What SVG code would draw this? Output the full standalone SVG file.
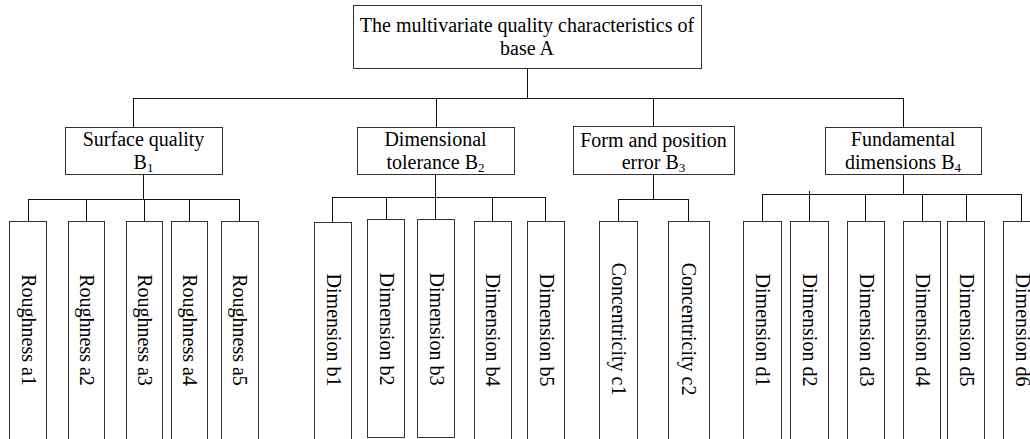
<svg xmlns="http://www.w3.org/2000/svg" width="1030" height="439" viewBox="0 0 1030 439">
<style>
  rect { fill: #fff; stroke: #333; stroke-width: 1; }
  .c line { stroke: #111; stroke-width: 1; }
  text { font-family: "Liberation Serif", "Times New Roman", serif; font-size: 20px; fill: #000; }
  .m { text-anchor: middle; }
  .sub { font-size: 13px; }
</style>
<rect x="0" y="0" width="1030" height="439" style="fill:#fff;stroke:none"/>
<g class="c" id="connectors">
  <line x1="527.5" y1="68" x2="527.5" y2="98.5"/>
  <line x1="133.5" y1="98.5" x2="903.5" y2="98.5"/>
  <line x1="133.5" y1="98" x2="133.5" y2="127"/>
  <line x1="436.5" y1="98" x2="436.5" y2="127"/>
  <line x1="653.5" y1="98" x2="653.5" y2="126"/>
  <line x1="903.5" y1="98" x2="903.5" y2="127"/>
  <!-- B1 -->
  <line x1="143.5" y1="174" x2="143.5" y2="199.5"/>
  <line x1="28.5" y1="199.5" x2="239.5" y2="199.5"/>
  <line x1="28.5" y1="199" x2="28.5" y2="221"/>
  <line x1="86.5" y1="199" x2="86.5" y2="221"/>
  <line x1="144.5" y1="199" x2="144.5" y2="221"/>
  <line x1="189.5" y1="199" x2="189.5" y2="221"/>
  <line x1="239.5" y1="199" x2="239.5" y2="221"/>
  <!-- B2 -->
  <line x1="435.5" y1="174" x2="435.5" y2="197.5"/>
  <line x1="332.5" y1="197.5" x2="545.5" y2="197.5"/>
  <line x1="332.5" y1="197" x2="332.5" y2="222"/>
  <line x1="386.5" y1="197" x2="386.5" y2="219"/>
  <line x1="435.5" y1="197" x2="435.5" y2="219"/>
  <line x1="492.5" y1="197" x2="492.5" y2="221"/>
  <line x1="545.5" y1="197" x2="545.5" y2="221"/>
  <!-- B3 -->
  <line x1="653.5" y1="174" x2="653.5" y2="199.5"/>
  <line x1="618.5" y1="199.5" x2="688.5" y2="199.5"/>
  <line x1="618.5" y1="199" x2="618.5" y2="221"/>
  <line x1="688.5" y1="199" x2="688.5" y2="221"/>
  <!-- B4 -->
  <line x1="903.5" y1="174" x2="903.5" y2="194.5"/>
  <line x1="762.5" y1="194.5" x2="1021.5" y2="194.5"/>
  <line x1="762.5" y1="194" x2="762.5" y2="221"/>
  <line x1="809.5" y1="191" x2="809.5" y2="221"/>
  <line x1="865.5" y1="194" x2="865.5" y2="221"/>
  <line x1="922.5" y1="194" x2="922.5" y2="221"/>
  <line x1="966.5" y1="194" x2="966.5" y2="221"/>
  <line x1="1021.5" y1="194" x2="1021.5" y2="221"/>
</g>
<g id="root">
  <rect x="353.5" y="5.5" width="348" height="63"/>
  <text class="m" x="527" y="32">The multivariate quality characteristics of</text>
  <text class="m" x="527" y="55">base A</text>
</g>
<g id="B1">
  <rect x="65.5" y="127.5" width="157" height="47"/>
  <text class="m" x="143.5" y="146">Surface quality</text>
  <text class="m" x="143.5" y="169">B<tspan class="sub" dy="3">1</tspan></text>
</g>
<g id="B2">
  <rect x="357.5" y="127.5" width="157" height="47"/>
  <text class="m" x="435.5" y="146">Dimensional</text>
  <text class="m" x="435.5" y="169">tolerance B<tspan class="sub" dy="3">2</tspan></text>
</g>
<g id="B3">
  <rect x="573.5" y="126.5" width="161" height="48"/>
  <text class="m" x="653.5" y="147">Form and position</text>
  <text class="m" x="653.5" y="169">error B<tspan class="sub" dy="3">3</tspan></text>
</g>
<g id="B4">
  <rect x="825.5" y="127.5" width="156" height="47"/>
  <text class="m" x="903" y="146">Fundamental</text>
  <text class="m" x="903" y="169">dimensions B<tspan class="sub" dy="3">4</tspan></text>
</g>
<g id="a1"><rect x="9.5" y="221.5" width="37" height="230"/><text class="m" transform="translate(28,330) rotate(90)" y="6.5">Roughness a1</text></g>
<g id="a2"><rect x="68.5" y="221.5" width="36" height="230"/><text class="m" transform="translate(86,330) rotate(90)" y="6.5">Roughness a2</text></g>
<g id="a3"><rect x="126.5" y="221.5" width="36" height="230"/><text class="m" transform="translate(144,330) rotate(90)" y="6.5">Roughness a3</text></g>
<g id="a4"><rect x="171.5" y="221.5" width="36" height="230"/><text class="m" transform="translate(189,330) rotate(90)" y="6.5">Roughness a4</text></g>
<g id="a5"><rect x="221.5" y="221.5" width="37" height="230"/><text class="m" transform="translate(239.5,330) rotate(90)" y="6.5">Roughness a5</text></g>
<g id="b1"><rect x="314.5" y="222.5" width="37" height="230"/><text class="m" transform="translate(333,330) rotate(90)" y="6.5">Dimension b1</text></g>
<g id="b2"><rect x="367.5" y="219.5" width="37" height="218"/><text class="m" transform="translate(386,329) rotate(90)" y="6.5">Dimension b2</text></g>
<g id="b3"><rect x="417.5" y="219.5" width="37" height="218"/><text class="m" transform="translate(436,329) rotate(90)" y="6.5">Dimension b3</text></g>
<g id="b4"><rect x="474.5" y="221.5" width="37" height="230"/><text class="m" transform="translate(492.5,330) rotate(90)" y="6.5">Dimension b4</text></g>
<g id="b5"><rect x="527.5" y="221.5" width="37" height="230"/><text class="m" transform="translate(546,330) rotate(90)" y="6.5">Dimension b5</text></g>
<g id="c1"><rect x="599.5" y="221.5" width="38" height="230"/><text class="m" transform="translate(618.5,329) rotate(90)" y="6.5">Concentricity c1</text></g>
<g id="c2"><rect x="668.5" y="221.5" width="41" height="230"/><text class="m" transform="translate(688.5,329) rotate(90)" y="6.5">Concentricity c2</text></g>
<g id="d1"><rect x="743.5" y="221.5" width="38" height="230"/><text class="m" transform="translate(762.5,330) rotate(90)" y="6.5">Dimension d1</text></g>
<g id="d2"><rect x="790.5" y="221.5" width="38" height="230"/><text class="m" transform="translate(809.5,330) rotate(90)" y="6.5">Dimension d2</text></g>
<g id="d3"><rect x="847.5" y="221.5" width="37" height="230"/><text class="m" transform="translate(866,330) rotate(90)" y="6.5">Dimension d3</text></g>
<g id="d4"><rect x="903.5" y="221.5" width="37" height="230"/><text class="m" transform="translate(922,330) rotate(90)" y="6.5">Dimension d4</text></g>
<g id="d5"><rect x="947.5" y="221.5" width="37" height="230"/><text class="m" transform="translate(966,330) rotate(90)" y="6.5">Dimension d5</text></g>
<g id="d6"><rect x="1003.5" y="221.5" width="37" height="230"/><text class="m" transform="translate(1022,330) rotate(90)" y="6.5">Dimension d6</text></g>
</svg>
